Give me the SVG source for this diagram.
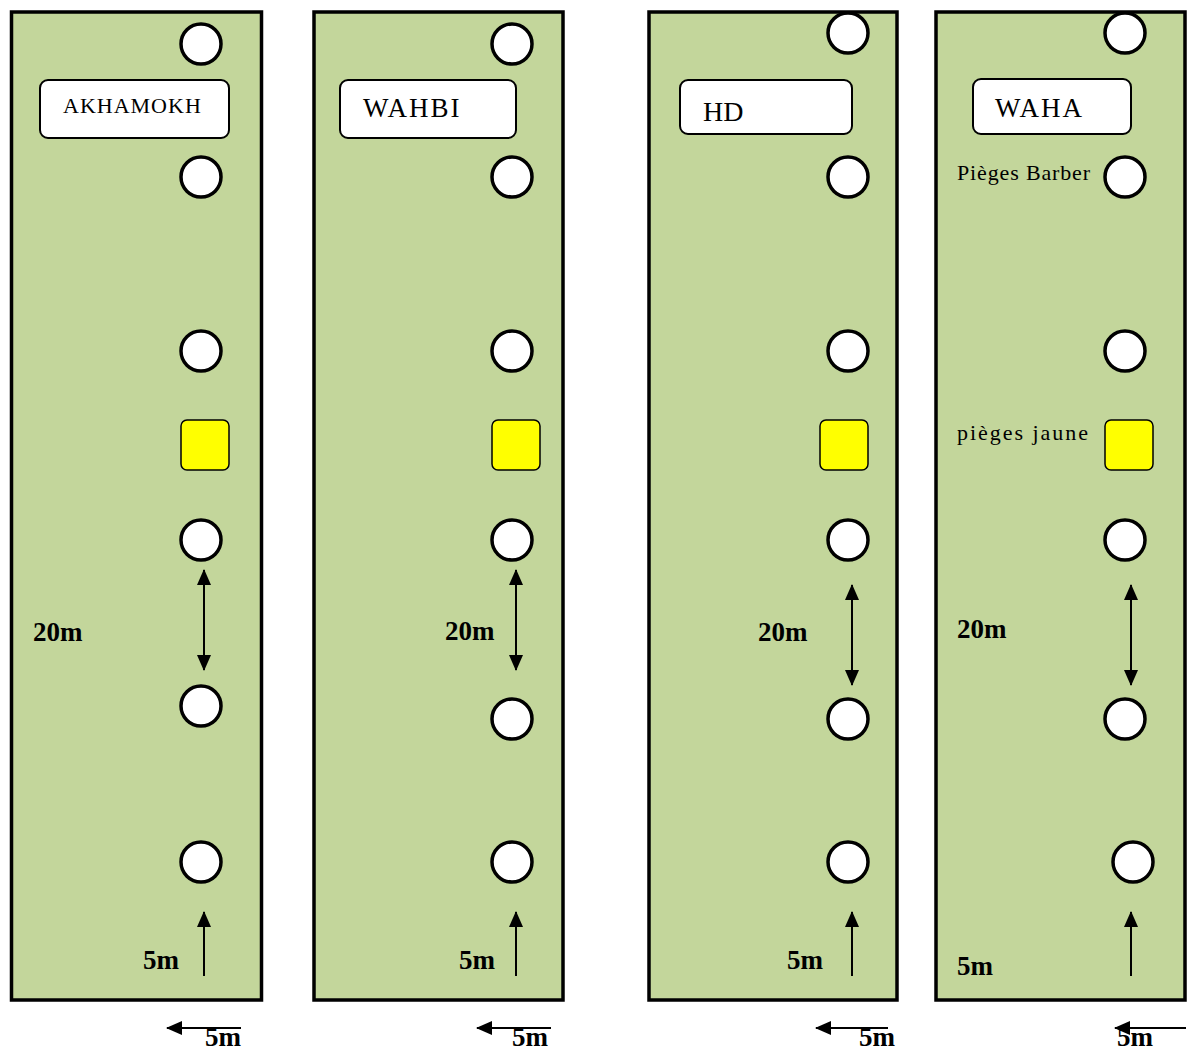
<svg xmlns="http://www.w3.org/2000/svg" width="1188" height="1053" viewBox="0 0 1188 1053">
<style>
.panel{fill:#C3D69B;stroke:#000;stroke-width:3.5}
.trap{fill:#fff;stroke:#000;stroke-width:3.5}
.yellow{fill:#FFFF00;stroke:#000;stroke-width:1.5}
.label{fill:#fff;stroke:#000;stroke-width:2}
.t{font-family:"Liberation Serif","Times New Roman",serif;fill:#000}
.b{font-family:"Liberation Serif","Times New Roman",serif;font-weight:bold;font-size:27px;fill:#000}
.ln{stroke:#000;stroke-width:2;fill:none}
</style>
<defs>
<marker id="ah" viewBox="0 0 16 14" refX="15" refY="7" markerWidth="16" markerHeight="14" markerUnits="userSpaceOnUse" orient="auto-start-reverse">
<path d="M0,0 L16,7 L0,14 z" fill="#000"/>
</marker>
</defs>
<g id="panel-akhamokh">
<rect class="panel" x="11.5" y="12" width="250" height="988"/>
<rect class="label" x="40" y="80" width="189" height="58" rx="8"/>
<text class="t" x="63" y="113" font-size="22" letter-spacing="1">AKHAMOKH</text>
<circle class="trap" cx="201" cy="44" r="20"/>
<circle class="trap" cx="201" cy="177" r="20"/>
<circle class="trap" cx="201" cy="351" r="20"/>
<rect class="yellow" x="181" y="420" width="48" height="50" rx="6"/>
<circle class="trap" cx="201" cy="540" r="20"/>
<circle class="trap" cx="201" cy="706" r="20"/>
<circle class="trap" cx="201" cy="862" r="20"/>
<text class="b" x="33" y="641">20m</text>
<text class="b" x="143" y="969">5m</text>
</g>
<g id="panel-wahbi">
<rect class="panel" x="314" y="12" width="249" height="988"/>
<rect class="label" x="340" y="80" width="176" height="58" rx="8"/>
<text class="t" x="363" y="117" font-size="27" letter-spacing="2">WAHBI</text>
<circle class="trap" cx="512" cy="44" r="20"/>
<circle class="trap" cx="512" cy="177" r="20"/>
<circle class="trap" cx="512" cy="351" r="20"/>
<rect class="yellow" x="492" y="420" width="48" height="50" rx="6"/>
<circle class="trap" cx="512" cy="540" r="20"/>
<circle class="trap" cx="512" cy="719" r="20"/>
<circle class="trap" cx="512" cy="862" r="20"/>
<text class="b" x="445" y="640">20m</text>
<text class="b" x="459" y="969">5m</text>
</g>
<g id="panel-hd">
<rect class="panel" x="649" y="12" width="248" height="988"/>
<rect class="label" x="680" y="80" width="172" height="54" rx="8"/>
<text class="t" x="703" y="121" font-size="28">HD</text>
<circle class="trap" cx="848" cy="33" r="20"/>
<circle class="trap" cx="848" cy="177" r="20"/>
<circle class="trap" cx="848" cy="351" r="20"/>
<rect class="yellow" x="820" y="420" width="48" height="50" rx="6"/>
<circle class="trap" cx="848" cy="540" r="20"/>
<circle class="trap" cx="848" cy="719" r="20"/>
<circle class="trap" cx="848" cy="862" r="20"/>
<text class="b" x="758" y="641">20m</text>
<text class="b" x="787" y="969">5m</text>
</g>
<g id="panel-waha">
<rect class="panel" x="936" y="12" width="249" height="988"/>
<rect class="label" x="973" y="79" width="158" height="55" rx="8"/>
<text class="t" x="995" y="117" font-size="27" letter-spacing="2">WAHA</text>
<text class="t" x="957" y="180" font-size="22" textLength="133" lengthAdjust="spacing">Pièges Barber</text>
<text class="t" x="957" y="440" font-size="22" textLength="131" lengthAdjust="spacing">pièges jaune</text>
<circle class="trap" cx="1125" cy="33" r="20"/>
<circle class="trap" cx="1125" cy="177" r="20"/>
<circle class="trap" cx="1125" cy="351" r="20"/>
<rect class="yellow" x="1105" y="420" width="48" height="50" rx="6"/>
<circle class="trap" cx="1125" cy="540" r="20"/>
<circle class="trap" cx="1125" cy="719" r="20"/>
<circle class="trap" cx="1133" cy="862" r="20"/>
<text class="b" x="957" y="638">20m</text>
<text class="b" x="957" y="975">5m</text>
</g>
<g id="bottom-labels">
<text class="b" x="205" y="1046">5m</text>
<text class="b" x="512" y="1046">5m</text>
<text class="b" x="859" y="1046">5m</text>
<text class="b" x="1117" y="1046">5m</text>
</g>
<g id="connectors">
<line class="ln" x1="204" y1="570" x2="204" y2="670" marker-start="url(#ah)" marker-end="url(#ah)"/>
<line class="ln" x1="516" y1="570" x2="516" y2="670" marker-start="url(#ah)" marker-end="url(#ah)"/>
<line class="ln" x1="852" y1="585" x2="852" y2="685" marker-start="url(#ah)" marker-end="url(#ah)"/>
<line class="ln" x1="1131" y1="585" x2="1131" y2="685" marker-start="url(#ah)" marker-end="url(#ah)"/>
<line class="ln" x1="204" y1="976" x2="204" y2="912" marker-end="url(#ah)"/>
<line class="ln" x1="516" y1="976" x2="516" y2="912" marker-end="url(#ah)"/>
<line class="ln" x1="852" y1="976" x2="852" y2="912" marker-end="url(#ah)"/>
<line class="ln" x1="1131" y1="976" x2="1131" y2="912" marker-end="url(#ah)"/>
<line class="ln" x1="241" y1="1028" x2="167" y2="1028" marker-end="url(#ah)"/>
<line class="ln" x1="551" y1="1028" x2="477" y2="1028" marker-end="url(#ah)"/>
<line class="ln" x1="888" y1="1028" x2="816" y2="1028" marker-end="url(#ah)"/>
<line class="ln" x1="1186" y1="1028" x2="1115" y2="1028" marker-end="url(#ah)"/>
</g>
</svg>
